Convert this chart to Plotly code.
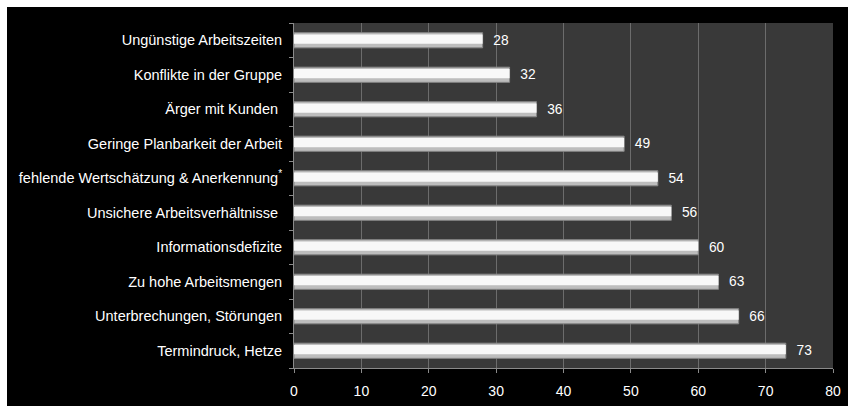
import plotly.graph_objects as go

categories = [
    "Termindruck, Hetze",
    "Unterbrechungen, Störungen",
    "Zu hohe Arbeitsmengen",
    "Informationsdefizite",
    "Unsichere Arbeitsverhältnisse ",
    "fehlende Wertschätzung & Anerkennung<sup>*</sup>",
    "Geringe Planbarkeit der Arbeit",
    "Ärger mit Kunden ",
    "Konflikte in der Gruppe",
    "Ungünstige Arbeitszeiten",
]
values = [73, 66, 63, 60, 56, 54, 49, 36, 32, 28]
x_ticks = [0, 10, 20, 30, 40, 50, 60, 70, 80]

W, H = 848, 407
L, R, T, B = 294, 15, 23, 39
pw, ph = W - L - R, H - T - B

def px(x):
    return (x - L) / pw

def py(y):
    return (H - B - y) / ph

font = "Liberation Sans, Arial, sans-serif"

fig = go.Figure()
# base (shadowed) bar
fig.add_trace(go.Bar(
    y=categories, x=values, orientation="h",
    width=0.44,
    marker=dict(color="#bdbdbd", line=dict(color="#858585", width=1)),
    text=values, texttemplate="\u00a0\u00a0%{text}", textposition="outside",
    textfont=dict(color="white", size=14.5, family=font),
    cliponaxis=False, hoverinfo="skip",
))
# highlight
fig.add_trace(go.Bar(
    y=categories, x=values, orientation="h",
    width=0.27, offset=-0.1,
    marker=dict(color="#f8f8f8", line=dict(width=0)),
    hoverinfo="skip",
))

fig.update_layout(
    width=W, height=H,
    margin=dict(l=L, r=R, t=T, b=B, autoexpand=False),
    paper_bgcolor="black",
    plot_bgcolor="#393939",
    barmode="overlay",
    showlegend=False,
    xaxis=dict(
        range=[0, 80], tickvals=x_ticks, ticktext=[str(v) for v in x_ticks],
        showgrid=True, gridcolor="#6c6c6c", gridwidth=1,
        showline=True, linecolor="#8a8a8a", linewidth=1,
        ticks="outside", ticklen=4, tickcolor="#8a8a8a",
        tickfont=dict(color="white", size=14, family=font),
        ticklabelstandoff=6, automargin=False,
        zeroline=False, fixedrange=True,
    ),
    yaxis=dict(
        type="category",
        showgrid=False,
        showline=True, linecolor="#8a8a8a", linewidth=1,
        ticks="outside", tickson="boundaries", ticklen=4, tickcolor="#8a8a8a",
        tickfont=dict(color="white", size=14.5, family=font),
        ticklabelstandoff=8, automargin=False,
        fixedrange=True,
    ),
    shapes=[
        dict(type="rect", xref="paper", yref="paper",
             x0=px(-5), x1=px(W + 5), y0=py(7), y1=py(-5),
             fillcolor="white", line=dict(width=0), layer="above"),
        dict(type="rect", xref="paper", yref="paper",
             x0=px(-5), x1=px(7), y0=py(H + 5), y1=py(-5),
             fillcolor="white", line=dict(width=0), layer="above"),
        dict(type="rect", xref="paper", yref="paper",
             x0=px(-5), x1=px(W + 5), y0=py(H + 5), y1=py(406),
             fillcolor="white", line=dict(width=0), layer="above"),
    ],
)

fig.write_html("out.html")
